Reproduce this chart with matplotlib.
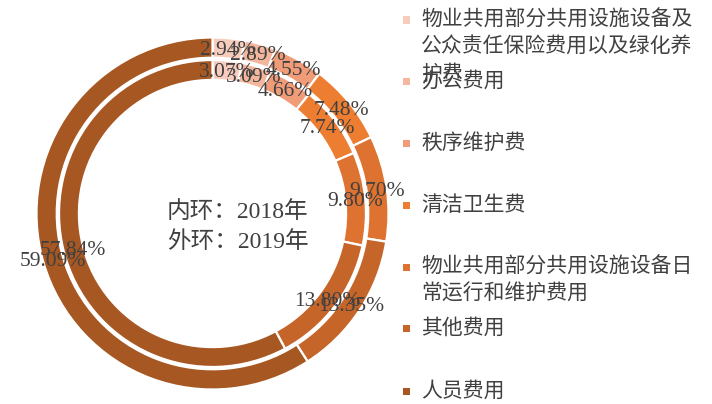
import matplotlib
matplotlib.use('Agg')
import matplotlib.pyplot as plt
import numpy as np
from matplotlib.patches import Rectangle

plt.rcParams['font.family'] = ['Liberation Serif', 'Noto Sans CJK SC', 'DejaVu Sans']

# 费用构成（%），内环 2018 年，外环 2019 年
categories = [
    '物业共用部分共用设施设备及\n公众责任保险费用以及绿化养\n护费',
    '办公费用',
    '秩序维护费',
    '清洁卫生费',
    '物业共用部分共用设施设备日\n常运行和维护费用',
    '其他费用',
    '人员费用',
]
share_2018 = [3.07, 3.09, 4.66, 7.74, 9.80, 13.80, 57.84]
share_2019 = [2.94, 2.89, 4.55, 7.48, 9.70, 13.35, 59.09]
colors = ['#F8CCBD', '#F4B79E', '#F09C78', '#ED7D31', '#DE7230', '#C5652A', '#A65722']
center_lines = ['内环：2018年', '外环：2019年']

W, H = 712, 404
fig = plt.figure(figsize=(W / 100, H / 100), dpi=100)

# 圆环所在区域（像素）
cx, cy, R = 212.5, 213.5, 176
ax = fig.add_axes([(cx - R) / W, (H - cy - R) / H, 2 * R / W, 2 * R / H])

rings = [
    (share_2019, 1.0, 0.115),    # 外环
    (share_2018, 0.872, 0.113),  # 内环
]
for values, radius, width in rings:
    wedges, _ = ax.pie(values, radius=radius, colors=colors, startangle=90,
                       counterclock=False,
                       wedgeprops=dict(width=width, edgecolor='white', linewidth=1.6))
    mid_r = radius - width / 2
    for w, v in zip(wedges, values):
        ang = np.deg2rad((w.theta1 + w.theta2) / 2)
        ax.text(mid_r * np.cos(ang), mid_r * np.sin(ang) - 0.01, f'{v:.2f}%',
                ha='center', va='center', fontsize=15.5, color='#404040',
                family=['Liberation Serif'])

ax.set_xlim(-1, 1)
ax.set_ylim(-1, 1)
ax.axis('off')

# 中心说明文字
for i, line in enumerate(center_lines):
    fig.text(167 / W, 1 - (212 + 30 * i) / H, line, ha='left', va='center',
             fontsize=17, color='#404040')

# 图例
leg_y = [20, 81, 143, 205, 267, 328, 391]
for name, col, y in zip(categories, colors, leg_y):
    fig.patches.append(Rectangle((403 / W, 1 - (y + 3.5) / H), 7 / W, 7 / H,
                                 transform=fig.transFigure, facecolor=col,
                                 edgecolor='none'))
    fig.text(421 / W, 1 - (y - 11) / H, name, ha='left', va='top',
             fontsize=15, color='#404040', linespacing=1.3,
             family=['Noto Sans CJK SC'])

fig.savefig('out.png', dpi=100)
